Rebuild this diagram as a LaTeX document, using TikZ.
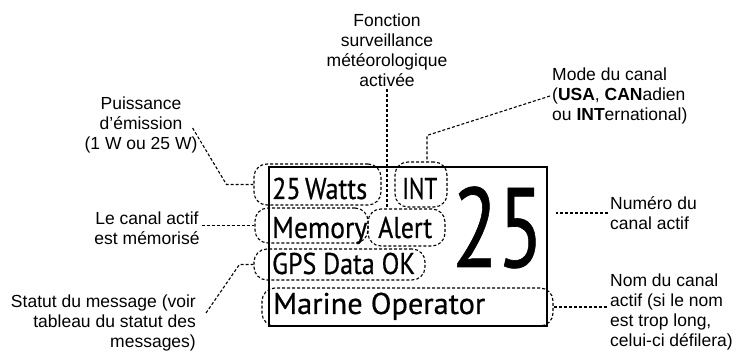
\documentclass[tikz,border=0pt]{standalone}
\usepackage{graphicx}
\usepackage{fontspec}
\setmainfont{Liberation Sans}
\newfontfamily\lcdfont[FakeBold=0.6]{PT Sans}

\tikzset{
  lead/.style = {line width=1.1pt, dash pattern=on 3pt off 2pt},
  ring/.style = {draw, line width=1.1pt, dash pattern=on 3pt off 2pt,
    rounded corners=13pt, inner sep=0pt},
  legend/.style = {font=\fontsize{17.5}{20}\selectfont, inner sep=2pt},
  lcd/.style = {font=\lcdfont\fontsize{30}{30}\selectfont, inner sep=0pt,
    anchor=base west},
}

\begin{document}
\begin{tikzpicture}[x=1pt, y=-1pt]
  \useasboundingbox (0,0) rectangle (736,352);
  %%+++++++++++++++++++++++++
  % Variables
  % Screen
  \pgfmathsetmacro{\Lscr}{278}
  \pgfmathsetmacro{\Hscr}{159}
  \pgfmathsetmacro{\xscr}{408}
  \pgfmathsetmacro{\yscr}{246.5}
  %%+++++++++++++++++++++++++
  % Drawing
  % Rings
  \node[ring, minimum width=127pt, minimum height=41pt] (wattsring) at (317.5,184.5) {};
  \node[ring, minimum width=52pt, minimum height=45pt] (intring) at (421,184.5) {};
  \node[ring, minimum width=113pt, minimum height=35pt] (memoring) at (311.5,225.5) {};
  \node[ring, minimum width=77pt, minimum height=37pt] (alertring) at (406.5,227.5) {};
  \node[ring, minimum width=171pt, minimum height=31pt] (gpsring) at (339.5,264.5) {};
  \node[ring, minimum width=291pt, minimum height=38pt] (marinering) at (407.5,307) {};
  % Screen
  \node[draw, line width=2pt, inner sep=0pt, minimum width=\Lscr pt,
    minimum height=\Hscr pt] (screen) at (\xscr,\yscr) {};
  \node[lcd] (watts) at (272,199) {\resizebox{95pt}{\height}{25\,Watts}};
  \node[lcd] (int) at (402,199) {\resizebox{35pt}{\height}{INT}};
  \node[lcd] (memory) at (272,238) {\resizebox{95pt}{\height}{Memory}};
  \node[lcd] (alert) at (378,238) {\resizebox{54pt}{\height}{Alert}};
  \node[lcd] (gps) at (272,274) {\resizebox{143pt}{\height}{GPS Data OK}};
  \node[lcd] (marine) at (273,314) {\resizebox{212pt}{\height}{Marine Operator}};
  \node[lcd, font=\lcdfont\fontsize{113}{113}\selectfont] (chan) at (452,267)
    {\resizebox{91pt}{\height}{25}};
  % Labels
  \node[legend, align=center] (powerlbl) at (141,125)
    {Puissance\\d’émission\\(1 W ou 25 W)};
  \node[legend, align=center] (memolbl) at (147,228) {Le canal actif\\est mémorisé};
  \node[legend, align=right, anchor=east] (statuslbl) at (198,323)
    {Statut du message (voir\\tableau du statut des\\messages)};
  \node[legend, align=center] (fonclbl) at (387,50)
    {Fonction\\surveillance\\météorologique\\activée};
  \node[legend, align=left, anchor=west] (modelbl) at (550,96)
    {Mode du canal\\(\textbf{USA}, \textbf{CAN}adien\\ou \textbf{INT}ernational)};
  \node[legend, align=left, anchor=west] (numlbl) at (608,213) {Numéro du\\canal actif};
  \node[legend, align=left, anchor=west] (nomlbl) at (608,312)
    {Nom du canal\\actif (si le nom\\est trop long,\\celui-ci défilera)};
  % Leads
  \coordinate (numend) at ([xshift=8pt]screen.east);
  \draw[lead] ([shift={(-7pt,-3pt)}]powerlbl.east) -- ([xshift=-27pt]wattsring.west)
    -- (wattsring.west);
  \draw[lead] (memolbl.east |- memoring.west) -- (memoring.west);
  \draw[lead] ([shift={(8pt,10pt)}]statuslbl.east) -- ([xshift=-14pt]gpsring.west)
    -- (gpsring.west);
  \draw[lead] (fonclbl.south) -- (fonclbl.south |- alertring.north);
  \draw[lead] (modelbl.west) -- ([shift={(6pt,26pt)}]intring.north)
    -- ([xshift=6pt]intring.north);
  \draw[lead] (numlbl.west) -- (numend |- numlbl.west);
  \draw[lead] (marinering.east) -- (marinering.east -| nomlbl.west);
\end{tikzpicture}
\end{document}
